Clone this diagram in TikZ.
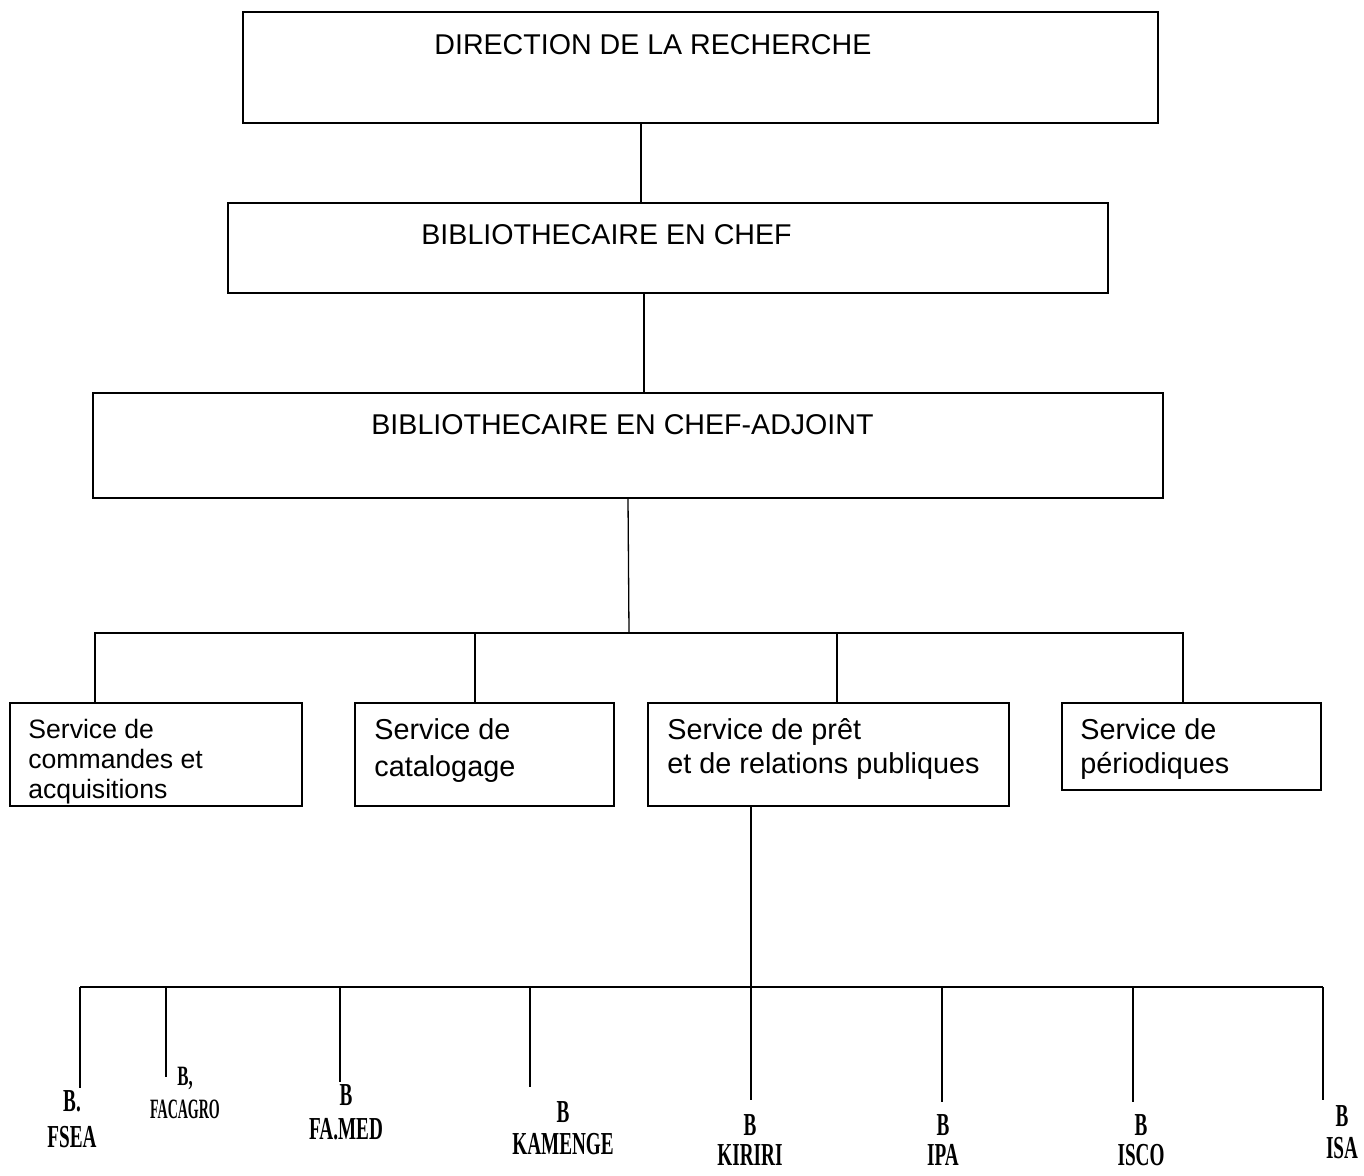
\documentclass[tikz,border=0pt]{standalone}
\usepackage{fontspec}
\setmainfont{Liberation Serif}
\setsansfont{Liberation Sans}
\usetikzlibrary{positioning, fit}

\newcommand{\narrowb}[2][0.6]{\scalebox{#1}[1]{#2}}

\begin{document}
\begin{tikzpicture}[x=0.5pt, y=-0.5pt]
        \tikzstyle{box} = [rectangle, draw, line width=0.7pt, inner sep=0pt]
        \tikzstyle{head} = [font=\sffamily\fontsize{14.3}{17}\selectfont, inner sep=0pt, anchor=base west]
        \tikzstyle{serv} = [font=\sffamily\fontsize{14.4}{17}\selectfont, align=left, inner sep=0pt, anchor=north west]
        \tikzstyle{lib} = [font=\bfseries\fontsize{16}{18}\selectfont, align=center, inner sep=0pt, anchor=north]
        \tikzstyle{line} = [draw, line width=0.65pt]

        \useasboundingbox (0,0) rectangle (1364,1175);

        % hierarchy boxes
        \node [box, fit={(243,12) (1158,123)}] (dir) {};
        \node [head] (dirtxt) at (434,54) {DIRECTION DE LA RECHERCHE};
        \node [box, fit={(228,203) (1108,293)}] (chef) {};
        \node [head] (cheftxt) at (421,244) {BIBLIOTHECAIRE EN CHEF};
        \node [box, fit={(93,393) (1163,498)}] (adj) {};
        \node [head] (adjtxt) at (371,434) {BIBLIOTHECAIRE EN CHEF-ADJOINT};

        % services
        \node [box, fit={(10,703) (302,806)}] (cmd) {};
        \node [serv, font=\sffamily\fontsize{13.3}{15}\selectfont] at (28,719) {Service de\\commandes et\\acquisitions};
        \node [box, fit={(355,703) (614,806)}] (cat) {};
        \node [serv, font=\sffamily\fontsize{14.4}{18.5}\selectfont] at (374,718) {Service de\\catalogage};
        \node [box, fit={(648,703) (1009,806)}] (pret) {};
        \node [serv] at (667,718) {Service de pr\^et\\et de relations publiques};
        \node [box, fit={(1062,703) (1321,790)}] (per) {};
        \node [serv] at (1080,718) {Service de\\p\'eriodiques};

        % branch libraries
        \node [lib] (fsea) at (72,1090) {\narrowb{B.}\\\narrowb{FSEA}};
        \node [lib, font=\bfseries\fontsize{14}{16.5}\selectfont] (facagro) at (185,1067) {\narrowb{B,}\\\narrowb[0.5]{FACAGRO}};
        \node [lib, font=\bfseries\fontsize{16}{17}\selectfont] (famed) at (346,1084) {\narrowb{B}\\\narrowb{FA.MED}};
        \node [lib, font=\bfseries\fontsize{16}{16}\selectfont] (kamenge) at (563,1101) {\narrowb{B}\\\narrowb{KAMENGE}};
        \node [lib, font=\bfseries\fontsize{16}{15}\selectfont] (kiriri) at (750,1114) {\narrowb{B}\\\narrowb{KIRIRI}};
        \node [lib, font=\bfseries\fontsize{16}{15}\selectfont] (ipa) at (943,1114) {\narrowb{B}\\\narrowb{IPA}};
        \node [lib, font=\bfseries\fontsize{16}{15}\selectfont] (isco) at (1141,1114) {\narrowb{B}\\\narrowb{ISCO}};
        \node [lib, font=\bfseries\fontsize{16}{16}\selectfont] (isa) at (1342,1105) {\narrowb{B}\\\narrowb{ISA}};

        \coordinate (bus1) at (629,633);
        \coordinate (bus2) at (751,987);

        \path [line] (641,123) -- (641,203);
        \path [line] (644,293) -- (644,393);
        \path [line] (adj.south) -- (bus1);
        \path [line] (95,703) -- (95,633) -- (1183,633) -- (1183,703);
        \path [line] (475,633) -- (475,703);
        \path [line] (837,633) -- (837,703);
        \path [line] (pret.south -| bus2) -- (bus2);
        \path [line] (80,987) -- (1323,987);

        \foreach \x/\e/\n in {80/1088/fsea, 166/1077/facagro, 340/1082/famed, 530/1087/kamenge,
                              751/1100/kiriri, 942/1102/ipa, 1133/1102/isco, 1323/1100/isa}
            {
            \coordinate (end-\n) at (\x,\e);
            \path [line] (\x,987) -- (end-\n);
            }
    \end{tikzpicture}
\end{document}
